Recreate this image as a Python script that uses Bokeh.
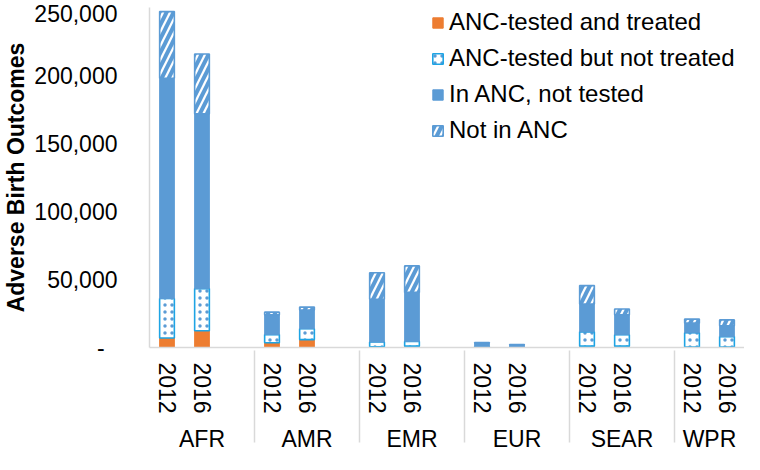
from bokeh.plotting import figure
from bokeh.models import (ColumnDataSource, FactorRange, NumeralTickFormatter,
                          FixedTicker, Legend, LegendItem)
from bokeh.embed import file_html
from bokeh.resources import INLINE

regions = ["AFR", "AMR", "EMR", "EUR", "SEAR", "WPR"]
years = ["2012", "2016"]

# values per (region, year), in order AFR-2012, AFR-2016, AMR-2012, ...
treated = [7000, 12300, 3500, 5800, 500, 1000, 200, 150, 1000, 1000, 300, 300]
tested_not_treated = [29000, 31000, 6000, 8000, 3500, 3500, 300, 250, 10500, 8400, 10500, 7700]
in_anc_not_tested = [162000, 128500, 14500, 13700, 31500, 36000, 2800, 1600, 20500, 14600, 7100, 8000]
not_in_anc = [49000, 44000, 2000, 2200, 19500, 19500, 300, 200, 13500, 4300, 3000, 4300]

series_names = ["ANC-tested and treated", "ANC-tested but not treated",
                "In ANC, not tested", "Not in ANC"]
y_ticks = [0, 50000, 100000, 150000, 200000, 250000]

x = [(r, y) for r in regions for y in years]
range_factors = []
for r in regions:
    range_factors += [(r, y) for y in years]
    if r != regions[-1]:
        range_factors.append((r, ""))

src = ColumnDataSource(dict(x=x, s0=treated, s1=tested_not_treated,
                            s2=in_anc_not_tested, s3=not_in_anc))

FONT = "Liberation Sans"
ORANGE = "#ED7D31"
BLUE = "#5B9BD5"
CYAN = "#1EA4E4"

p = figure(x_range=FactorRange(factors=range_factors, factor_padding=0,
                               group_padding=0, range_padding=0),
           y_range=(0, 250000), width=744, height=454,
           output_backend="svg", toolbar_location=None,
           min_border_left=140, min_border_right=0,
           min_border_top=7, min_border_bottom=100)

rs = p.vbar_stack(["s0", "s1", "s2", "s3"], x="x", width=0.42, source=src,
                  fill_color=[ORANGE, "white", BLUE, "white"],
                  line_color=[ORANGE, CYAN, BLUE, BLUE],
                  line_width=[1, 1.6, 1, 1.6],
                  hatch_pattern=[" ", ".", " ", "/"],
                  hatch_color=[ORANGE, BLUE, BLUE, BLUE],
                  hatch_scale=[12, 7, 12, 14],
                  hatch_weight=[1, 2, 1, 4])

legend = Legend(items=[LegendItem(label=n, renderers=[r]) for n, r in zip(series_names, rs)],
                location=(282, 199), padding=0, margin=0,
                border_line_color=None, background_fill_alpha=0,
                label_text_font_size="24px", label_text_font=FONT,
                label_text_color="#000000",
                glyph_width=13, glyph_height=13, label_standoff=5,
                spacing=0, label_height=36)
p.add_layout(legend, "center")

p.xgrid.grid_line_color = None
p.ygrid.grid_line_color = None
p.outline_line_color = None

ya = p.yaxis[0]
ya.ticker = FixedTicker(ticks=y_ticks)
ya.formatter = NumeralTickFormatter(format="0,0")
ya.major_label_overrides = {0: "-\u00a0\u00a0"}
ya.axis_line_color = "#D9D9D9"
ya.axis_line_width = 1.5
ya.major_tick_line_color = None
ya.minor_tick_line_color = None
ya.major_label_standoff = 26
ya.major_label_text_font_size = "23px"
ya.major_label_text_font = FONT
ya.major_label_text_color = "#000000"
ya.axis_label = "Adverse Birth Outcomes"
ya.axis_label_text_font = FONT
ya.axis_label_text_font_size = "23px"
ya.axis_label_text_font_style = "bold"
ya.axis_label_text_color = "#000000"
ya.axis_label_standoff = 2

xa = p.xaxis[0]
xa.axis_line_color = "#D9D9D9"
xa.axis_line_width = 1.5
xa.major_tick_line_color = None
xa.minor_tick_line_color = None
xa.major_label_orientation = "vertical"
xa.major_label_standoff = 9
xa.major_label_text_font_size = "23px"
xa.major_label_text_font = FONT
xa.major_label_text_color = "#000000"
xa.group_text_font_size = "23px"
xa.group_text_font = FONT
xa.group_text_font_style = "normal"
xa.group_text_color = "#000000"
xa.separator_line_color = "#D9D9D9"
xa.separator_line_width = 1.5

open("out.html", "w").write(file_html(p, INLINE))
